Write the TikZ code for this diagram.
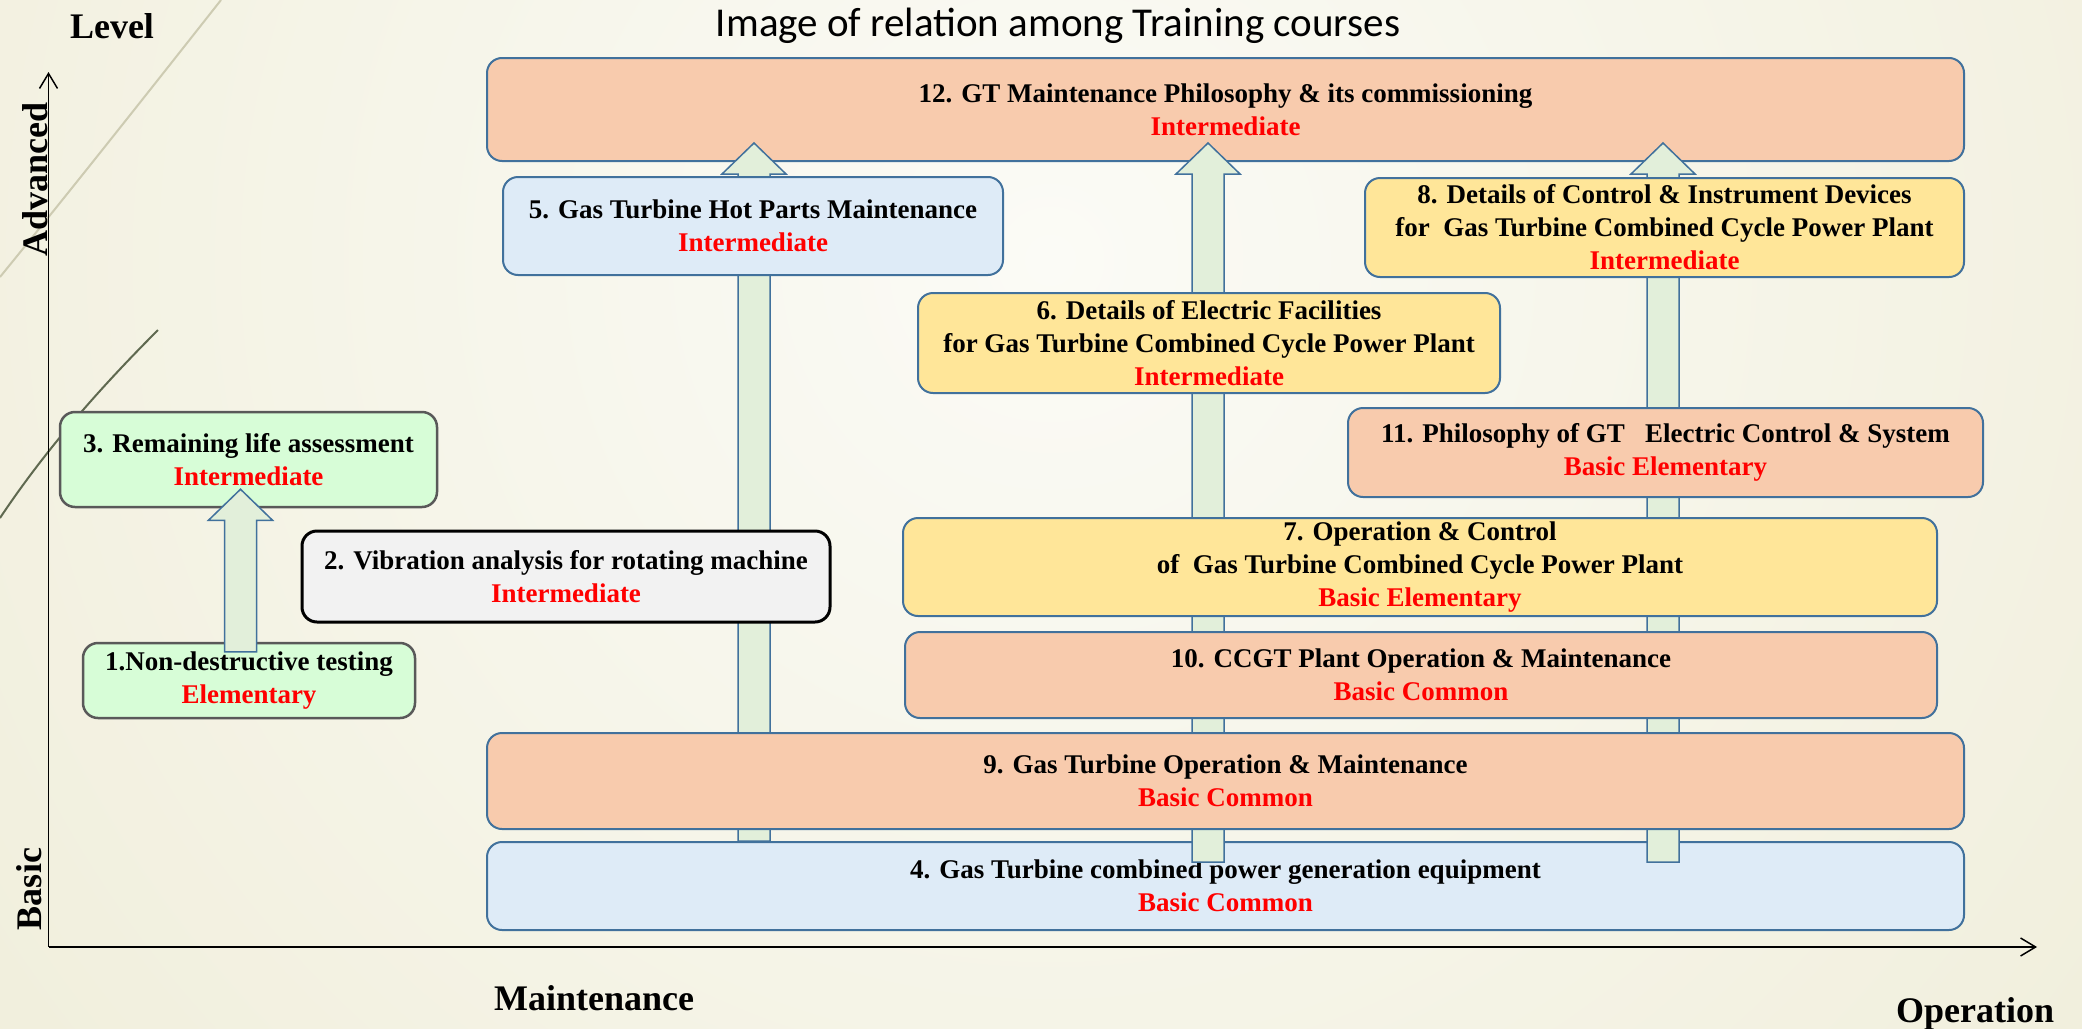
\documentclass[tikz,border=0pt]{standalone}
\usepackage{fontspec}
\setmainfont{Liberation Serif}
\newfontfamily\titlefont{Carlito}
\usetikzlibrary{arrows.meta,calc}
\definecolor{salmon}{HTML}{F8CBAD}
\definecolor{bordblue}{HTML}{41719C}
\definecolor{lblue}{HTML}{DEEBF7}
\definecolor{lyellow}{HTML}{FFE699}
\definecolor{lgreen}{HTML}{D7FDD7}
\definecolor{grayborder}{HTML}{595959}
\definecolor{lgray}{HTML}{F2F2F2}
\definecolor{arrfill}{HTML}{E2EFDA}
\definecolor{lvlred}{HTML}{FF0000}
\definecolor{bgin}{RGB}{251,251,246}
\definecolor{bgout}{RGB}{230,226,193}
\definecolor{curvelight}{RGB}{205,203,178}
\definecolor{curvedark}{RGB}{95,105,80}
\pgfdeclarelayer{bg}
\pgfdeclarelayer{bottom}
\pgfdeclarelayer{arrowlayer}
\pgfsetlayers{bg,bottom,arrowlayer,main}
\newcommand{\levtxt}[1]{\textcolor{lvlred}{#1}}
\newcommand{\blockarr}[2]{%
  \draw[blockarrow] let \p1=(#1), \p2=(#2) in
  (\x2-16pt,\y1) -- (\x2-16pt,\y2-31pt) -- (\x2-32pt,\y2-31pt) -- (\x2,\y2)
  -- (\x2+32pt,\y2-31pt) -- (\x2+16pt,\y2-31pt) -- (\x2+16pt,\y1) -- cycle;}
\begin{document}
\begin{tikzpicture}[x=1pt,y=-1pt,
  cbox/.style={line width=2pt, rounded corners=15pt, align=center, inner sep=0pt,
    font=\bfseries\fontsize{27}{33}\selectfont},
  bluebox/.style={cbox, draw=bordblue},
  greenbox/.style={cbox, draw=grayborder, line width=2.5pt, fill=lgreen},
  graybox/.style={cbox, draw=black, line width=3pt, fill=lgray},
  axislabel/.style={font=\bfseries\fontsize{36}{40}\selectfont},
  axisline/.style={line width=1.5pt, -{Straight Barb[length=15pt,width=18pt]}},
  blockarrow/.style={draw=bordblue, line width=1.5pt, fill=arrfill, line join=miter},
]
\useasboundingbox (0,0) rectangle (2082,1028);

\begin{pgfonlayer}{bg}
  \begin{scope}
    \clip (0,0) rectangle (2082,1028);
    \shade[inner color=bgin, outer color=bgout] (1050,260) circle (2700pt);
  \end{scope}
  \draw[line width=2pt, curvelight] (0,277) .. controls (75,185) and (150,90) .. (221,0);
  \draw[line width=2pt, curvedark] (0,518) .. controls (40,458) and (90,398) .. (158,330);
\end{pgfonlayer}

% boxes that lie under the block arrows
\begin{pgfonlayer}{bottom}
  \node[bluebox, fill=salmon, minimum width=1477pt, minimum height=103pt] (b12) at (1225.5,109.5)
    {12. GT Maintenance Philosophy \& its commissioning\\\levtxt{Intermediate}};
  \node[bluebox, fill=lblue, minimum width=1477pt, minimum height=88pt] (b4) at (1225.5,886)
    {4. Gas Turbine combined power generation equipment\\\levtxt{Basic Common}};
\end{pgfonlayer}

% boxes above the block arrows
\node[bluebox, fill=lblue, minimum width=500pt, minimum height=98pt] (b5) at (753,226)
  {5. Gas Turbine Hot Parts Maintenance\\\levtxt{Intermediate}};
\node[bluebox, fill=lyellow, minimum width=599pt, minimum height=99pt] (b8) at (1664.5,227.5)
  {8. Details of Control \& Instrument Devices\\for\ \ Gas Turbine Combined Cycle Power Plant\\\levtxt{Intermediate}};
\node[bluebox, fill=lyellow, minimum width=582pt, minimum height=100pt] (b6) at (1209,343)
  {6. Details of Electric Facilities\\for Gas Turbine Combined Cycle Power Plant\\\levtxt{Intermediate}};
\node[bluebox, fill=salmon, minimum width=635pt, minimum height=89pt] (b11) at (1665.5,452.5)
  {11. Philosophy of GT\ \ \ Electric Control \& System\\\levtxt{Basic Elementary}};
\node[greenbox, minimum width=377pt, minimum height=95pt] (b3) at (248.5,459.5)
  {3. Remaining life assessment\\\levtxt{Intermediate}};
\node[graybox, minimum width=528pt, minimum height=91pt] (b2) at (566,576.5)
  {2. Vibration analysis for rotating machine\\\levtxt{Intermediate}};
\node[bluebox, fill=lyellow, minimum width=1034pt, minimum height=98pt] (b7) at (1420,567)
  {7. Operation \& Control\\of\ \ Gas Turbine Combined Cycle Power Plant\\\levtxt{Basic Elementary}};
\node[bluebox, fill=salmon, minimum width=1032pt, minimum height=86pt] (b10) at (1421,675)
  {10. CCGT Plant Operation \& Maintenance\\\levtxt{Basic Common}};
\node[greenbox, minimum width=332pt, minimum height=75pt] (b1) at (249,680.5)
  {1.Non-destructive testing\\\levtxt{Elementary}};
\node[bluebox, fill=salmon, minimum width=1477pt, minimum height=96pt] (b9) at (1225.5,781)
  {9. Gas Turbine Operation \& Maintenance\\\levtxt{Basic Common}};

% block arrows
\coordinate (a5b) at (b5.center |- b4.north);
\coordinate (a5t) at ($(b5.center |- b12.south)+(1,-19)$);
\coordinate (a6b) at ($(b6.center |- b4.north)+(0,21)$);
\coordinate (a6t) at ($(b6.center |- b12.south)+(-1,-19)$);
\coordinate (a8b) at ($(b8.center |- b4.north)+(0,21)$);
\coordinate (a8t) at ($(b8.center |- b12.south)+(-1.5,-19)$);
\begin{pgfonlayer}{arrowlayer}
  \blockarr{a5b}{a5t}
  \blockarr{a6b}{a6t}
  \blockarr{a8b}{a8t}
\end{pgfonlayer}
\coordinate (a1b) at ($(b1.north)+(-8.5,10)$);
\coordinate (a1t) at ($(b3.south)+(-8,-19)$);
\blockarr{a1b}{a1t}

% axes
\coordinate (org) at (48.5,947);
\coordinate (ytip) at (48.5,72);
\coordinate (xtip) at (2037,947);
\draw[axisline] (org) -- (ytip);
\draw[axisline] (org) -- (xtip);

% labels
\node[font=\titlefont\fontsize{41}{48}\selectfont, anchor=base] (ttl) at (1058,36)
  {Image of relation among Training courses};
\node[axislabel, anchor=base] (lev) at (112,38) {Level};
\node[axislabel, anchor=base, rotate=90] (adv) at (47,179.5) {Advanced};
\node[axislabel, anchor=base, rotate=90] (bas) at (41,889) {Basic};
\node[axislabel, anchor=base] (mnt) at (594,1010) {Maintenance};
\node[axislabel, anchor=base] (opr) at (1975,1022) {Operation};
\end{tikzpicture}
\end{document}
